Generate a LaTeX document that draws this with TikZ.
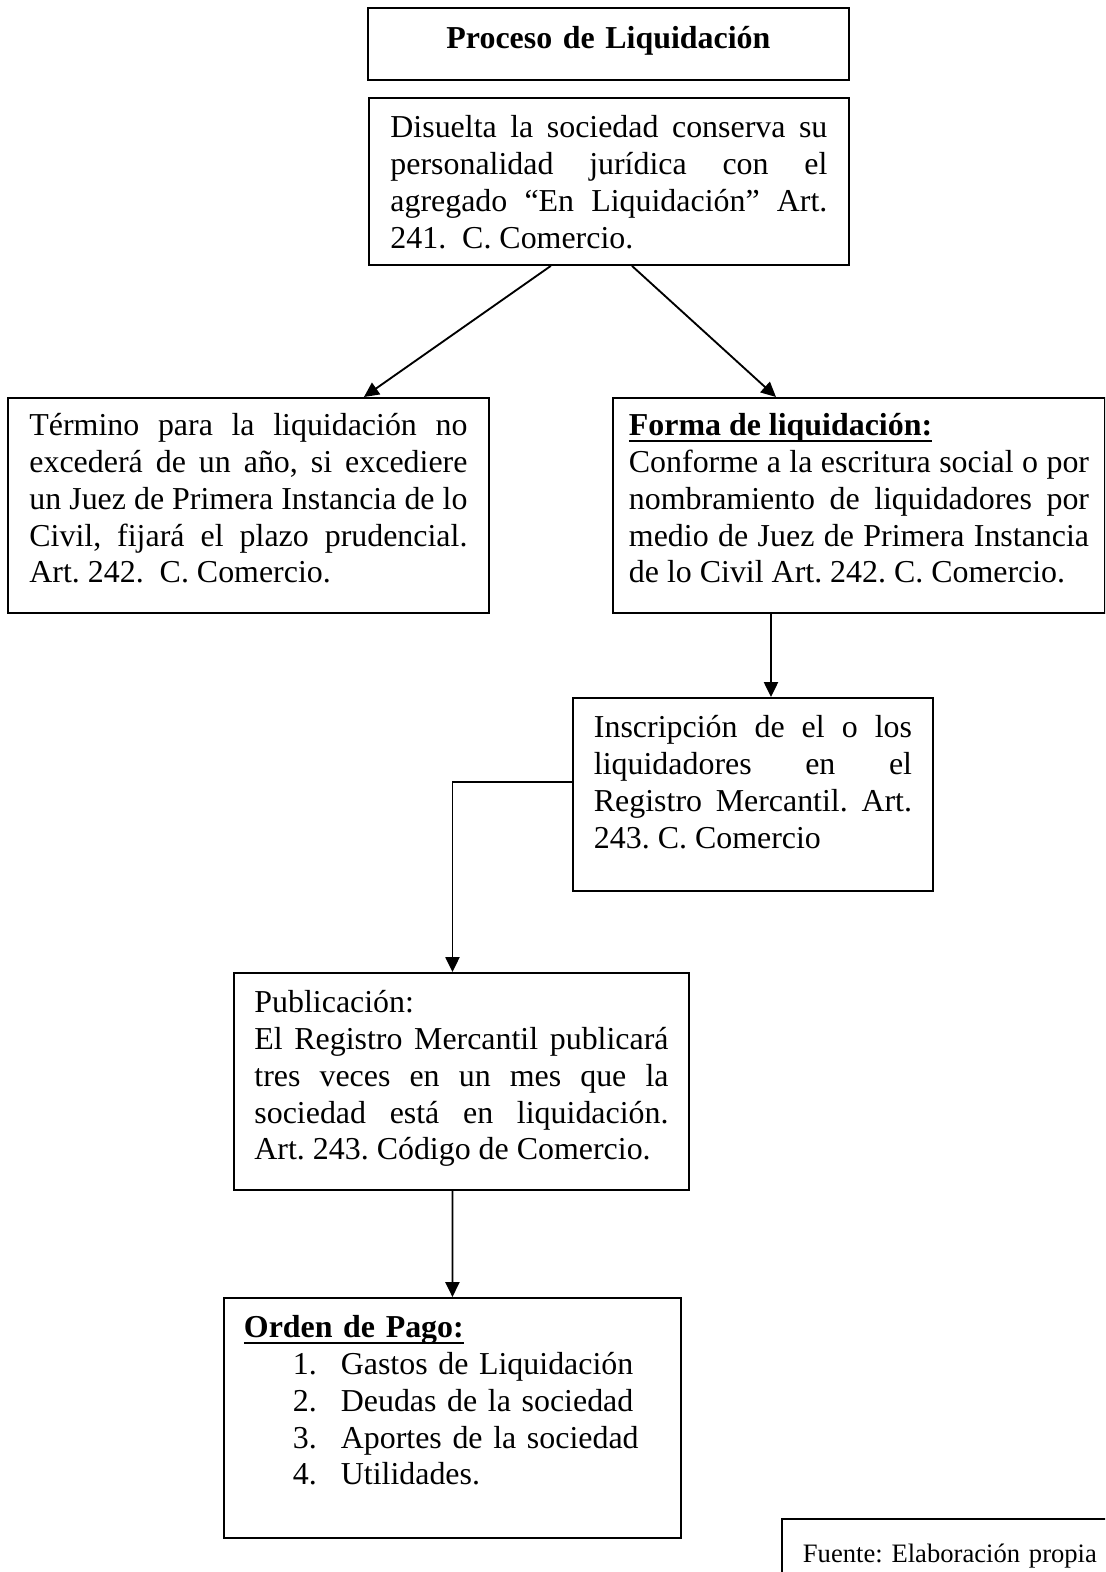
\documentclass[tikz,border=0pt]{standalone}
\usepackage{fontspec}
\setmainfont{Liberation Serif}
\usetikzlibrary{arrows.meta,calc}
\frenchspacing
\hyphenpenalty=10000
\newcommand{\subrayado}[1]{\leavevmode\setbox0\hbox{#1}\rlap{\rule[-2.4pt]{\wd0}{0.9pt}}\box0}

\begin{document}
\begin{tikzpicture}[x=0.376pt,y=-0.376pt,>={Triangle[length=5.6pt,width=5.3pt]},
  caja/.style={draw,line width=0.7pt,anchor=north west,inner ysep=0pt,align=justify,
    font=\fontsize{12}{13.8}\selectfont},
  a/.style={->,line width=0.7pt}]
\clip (0,0) rectangle (1105,1572);
\fill[white] (0,0) rectangle (1105,1572);
% cajas
\node[caja,align=center,text width=165.8pt,inner xsep=7.52pt,text height=15.42pt,text depth=11.66pt] (tit) at (367,7)
  {\textbf{Proceso de Liquidación}};
\node[caja,text width=164.3pt,inner xsep=8.08pt,text height=15.04pt,text depth=47.75pt] (b1) at (368,97)
  {Disuelta la sociedad conserva su\linebreak personalidad jurídica con el\linebreak agregado “En Liquidación” Art.\linebreak 241.\ \ C. Comercio.};
\node[caja,text width=164.7pt,inner xsep=8.08pt,text height=14.29pt,text depth=66.55pt] (b2) at (7,397)
  {Término para la liquidación no\linebreak excederá de un año, si excediere\linebreak un Juez de Primera Instancia de lo\linebreak Civil, fijará el plazo prudencial.\linebreak Art. 242.\ \ C. Comercio.};
\node[caja,text width=173pt,inner xsep=6.02pt,text height=14.29pt,text depth=66.55pt] (b3) at (612,397)
  {\subrayado{\textbf{Forma de liquidación:}}\par Conforme a la escritura social o por\linebreak nombramiento de liquidadores por\linebreak medio de Juez de Primera Instancia\linebreak de lo Civil Art. 242. C. Comercio.};
\node[caja,text width=119.6pt,inner xsep=7.9pt,text height=15.04pt,text depth=57.53pt] (b4) at (572,697)
  {Inscripción de el o los\linebreak liquidadores en el\linebreak Registro Mercantil. Art.\linebreak 243. C. Comercio};
\node[caja,text width=155.7pt,inner xsep=7.71pt,text height=15.04pt,text depth=66.55pt] (b5) at (233,972)
  {Publicación:\par El Registro Mercantil publicará\linebreak tres veces en un mes que la\linebreak sociedad está en liquidación.\linebreak Art. 243. Código de Comercio.};
\node[caja,align=left,text width=156.8pt,inner xsep=7.52pt,text height=15.04pt,text depth=75.2pt] (b6) at (223,1297)
  {\subrayado{\textbf{Orden de Pago:}}\par
   \hspace*{18.4pt}\makebox[18.05pt][l]{1.}Gastos de Liquidación\par
   \hspace*{18.4pt}\makebox[18.05pt][l]{2.}Deudas de la sociedad\par
   \hspace*{18.4pt}\makebox[18.05pt][l]{3.}Aportes de la sociedad\par
   \hspace*{18.4pt}\makebox[18.05pt][l]{4.}Utilidades.};
\node[caja,align=left,text width=150pt,inner xsep=7.9pt,text height=16.54pt,text depth=15pt,
  font=\fontsize{10}{11.5}\selectfont] (b7) at (781,1518) {Fuente: Elaboración propia};
% flechas
\draw[a] ($(b1.south)+(-58,0)$) -- ($(b2.north)+(115.5,0)$);
\draw[a] ($(b1.south)+(23,0)$) -- ($(b3.north)+(-83,0)$);
\draw[a] ($(b3.south)+(-88,0)$) -- ($(b4.north)+(18,0)$);
\draw[a] ($(b4.west)+(0,-12.5)$) -| ($(b5.north)+(-9,0)$);
\draw[a] ($(b5.south)+(-9,0)$) -- (b6.north);
\end{tikzpicture}
\end{document}
